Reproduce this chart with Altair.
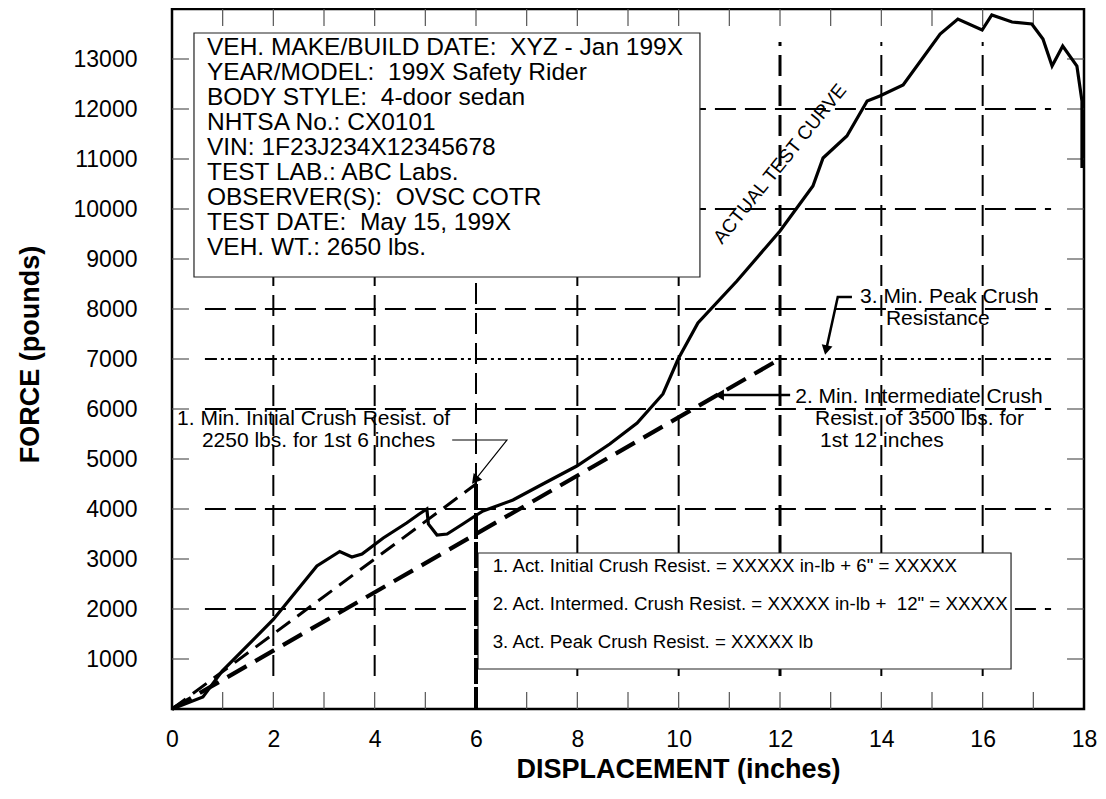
import altair as alt
import pandas as pd

FONT = "Liberation Sans"
NB = "\u00a0"

# ---- actual test curve (displacement in inches, force in pounds) ----
disp = [0, 0.61, 0.99, 2.0, 2.86, 3.31, 3.55, 3.75, 4.17, 4.63, 4.88, 5.03, 5.06, 5.23, 5.43,
        5.74, 5.98, 6.14, 6.73, 7.32, 7.99, 8.64, 9.18, 9.69, 9.99, 10.38, 11.15, 12.0, 12.65,
        12.85, 13.32, 13.72, 13.97, 14.43, 15.16, 15.51, 15.99, 16.18, 16.58, 16.97, 17.19,
        17.37, 17.58, 17.86, 17.96, 17.96]
force = [0, 240, 760, 1790, 2860, 3150, 3040, 3100, 3420, 3720, 3900, 4000, 3700, 3480, 3500,
         3700, 3860, 3960, 4180, 4500, 4860, 5300, 5720, 6300, 7000, 7720, 8560, 9560, 10460,
         11020, 11460, 12160, 12260, 12480, 13500, 13800, 13580, 13880, 13740, 13700, 13400,
         12860, 13260, 12860, 12160, 10820]

# ---- minimum requirement lines ----
init_x = [0, 6]
init_y = [0, 4500]
inter_x = [0, 12]
inter_y = [0, 7000]
peak_force = 7000

# ---- axes / grid ----
x_tick_labels = list(range(0, 19, 2))
y_tick_labels = list(range(1000, 14000, 1000))
x_minor = list(range(1, 18))
y_minor = list(range(1000, 14000, 1000))
vgrid_x = [2, 4, 8, 10, 14, 16]
hgrid_y = [2000, 4000, 6000, 8000, 10000, 12000]

# ---- texts ----
info_lines = [
    "VEH. MAKE/BUILD DATE: " + NB + "XYZ - Jan 199X",
    "YEAR/MODEL: " + NB + "199X Safety Rider",
    "BODY STYLE: " + NB + "4-door sedan",
    "NHTSA No.: CX0101",
    "VIN: 1F23J234X12345678",
    "TEST LAB.: ABC Labs.",
    "OBSERVER(S): " + NB + "OVSC COTR",
    "TEST DATE: " + NB + "May 15, 199X",
    "VEH. WT.: 2650 lbs.",
]
info_y = [13220, 12720, 12220, 11720, 11220, 10720, 10220, 9720, 9220]

result_lines = [
    '1. Act. Initial Crush Resist. = XXXXX in-lb + 6" = XXXXX',
    '2. Act. Intermed. Crush Resist. = XXXXX in-lb + ' + NB + '12" = XXXXX',
    "3. Act. Peak Crush Resist. = XXXXX lb",
]
result_y = [2860, 2100, 1340]

ann_text = ["1. Min. Initial Crush Resist. of", "2250 lbs. for 1st 6 inches",
            "3. Min. Peak Crush", "Resistance",
            "2. Min. Intermediate Crush", "Resist. of 3500 lbs. for", "1st 12 inches"]
ann_x = [0.10, 0.59, 13.58, 14.09, 12.30, 12.69, 12.79]
ann_y = [5810, 5370, 8240, 7800, 6240, 5800, 5360]

xs = alt.Scale(domain=[0, 18], nice=False, zero=False)
ys = alt.Scale(domain=[0, 14000], nice=False, zero=False)

x_axis = alt.Axis(values=x_tick_labels, title="DISPLACEMENT (inches)", grid=False, ticks=False,
                  domain=False, labelFont=FONT, labelFontSize=23, labelColor="black",
                  labelPadding=19, labelFlush=False, labelOverlap=False, format="d",
                  titleFont=FONT, titleFontSize=27, titleFontWeight="bold", titleColor="black",
                  titleX=506, titleY=60, titleAlign="center", titleBaseline="middle")
y_axis = alt.Axis(values=y_tick_labels, title="FORCE (pounds)", grid=False, ticks=False,
                  domain=False, labelFont=FONT, labelFontSize=23, labelColor="black",
                  labelPadding=35, labelFlush=False, labelOverlap=False, format="d",
                  titleFont=FONT, titleFontSize=27, titleFontWeight="bold", titleColor="black",
                  titleX=-142, titleY=345, titleAngle=270, titleAlign="center",
                  titleBaseline="middle")


def X(f="x"):
    return alt.X(f + ":Q", scale=xs, axis=x_axis)


def Y(f="y"):
    return alt.Y(f + ":Q", scale=ys, axis=y_axis)


# grid lines
vg = pd.DataFrame({"x": vgrid_x, "y": 660, "y2": 13340})
vgrid = alt.Chart(vg).mark_rule(color="black", strokeWidth=2, strokeDash=[21, 9]).encode(
    x=X(), y=Y(), y2="y2:Q")
vg6 = pd.DataFrame({"x": [6], "y": [init_y[1]], "y2": [13340]})
vgrid6 = alt.Chart(vg6).mark_rule(color="black", strokeWidth=2, strokeDash=[21, 9]).encode(
    x=X(), y=Y(), y2="y2:Q")
vg12 = pd.DataFrame({"x": [12], "y": [660], "y2": [13340]})
vgrid12 = alt.Chart(vg12).mark_rule(color="black", strokeWidth=3, strokeDash=[21, 9]).encode(
    x=X(), y=Y(), y2="y2:Q")
v6 = pd.DataFrame({"x": [init_x[1]], "y": [init_y[1]], "y2": [0]})
vthick6 = alt.Chart(v6).mark_rule(color="black", strokeWidth=4, strokeDash=[26, 3]).encode(
    x=X(), y=Y(), y2="y2:Q")
hg = pd.DataFrame({"y": hgrid_y, "x": 0.65, "x2": 17.35})
hgrid = alt.Chart(hg).mark_rule(color="black", strokeWidth=2, strokeDash=[21, 9]).encode(
    y=Y(), x=X(), x2="x2:Q")
pk = pd.DataFrame({"y": [peak_force], "x": [0.65], "x2": [17.35]})
peak = alt.Chart(pk).mark_rule(color="black", strokeWidth=2.2,
                               strokeDash=[12, 4, 3, 4, 3, 4]).encode(y=Y(), x=X(), x2="x2:Q")

# inward ticks
tk = pd.concat([
    pd.DataFrame({"x": x_minor, "x2": x_minor, "y": 0, "y2": 340}),
    pd.DataFrame({"x": x_minor, "x2": x_minor, "y": 13660, "y2": 14000}),
    pd.DataFrame({"x": 0, "x2": 0.335, "y": y_minor, "y2": y_minor}),
    pd.DataFrame({"x": 17.665, "x2": 18, "y": y_minor, "y2": y_minor}),
])
ticks = alt.Chart(tk).mark_rule(color="#555555", strokeWidth=1.2).encode(
    x=X(), x2="x2:Q", y=Y(), y2="y2:Q")

# boxes
bx = pd.DataFrame({"x": [0.434, 6.04], "x2": [10.42, 16.56], "y": [13520, 3120], "y2": [8640, 800]})
boxes = alt.Chart(bx).mark_rect(fill="white", stroke="#222222", strokeWidth=1.2).encode(
    x=X(), x2="x2:Q", y=Y(), y2="y2:Q")

# minimum lines
ini = pd.DataFrame({"x": init_x, "y": init_y})
init_line = alt.Chart(ini).mark_line(color="black", strokeWidth=3, strokeDash=[17, 9]).encode(
    x=X(), y=Y())
itm = pd.DataFrame({"x": inter_x, "y": inter_y})
inter_line = alt.Chart(itm).mark_line(color="black", strokeWidth=4.2, strokeDash=[22, 10]).encode(
    x=X(), y=Y())

# actual curve
cv = pd.DataFrame({"x": disp, "y": force, "i": list(range(len(disp)))})
curve = alt.Chart(cv).mark_line(color="black", strokeWidth=3.2, strokeJoin="miter").encode(
    x=X(), y=Y(), order="i:Q")

# leaders
ld1 = pd.DataFrame({"x": [5.53, 6.61, 5.98], "y": [5380, 5380, 4578], "i": [0, 1, 2]})
lead1 = alt.Chart(ld1).mark_line(color="black", strokeWidth=1.2).encode(x=X(), y=Y(), order="i:Q")
ld23 = pd.DataFrame({"x": [12.20, 10.80, 13.42, 13.14, 12.91],
                     "y": [6280, 6280, 8240, 8240, 7180],
                     "g": ["a", "a", "b", "b", "b"], "i": [0, 1, 0, 1, 2]})
lead23 = alt.Chart(ld23).mark_line(color="black", strokeWidth=2.5).encode(
    x=X(), y=Y(), detail="g:N", order="i:Q")
ah = pd.DataFrame({"x": [5.98, 10.80, 12.91], "y": [4578, 6280, 7180], "a": [218.5, 270, 192.4]})
heads = alt.Chart(ah).mark_point(shape="triangle-up", filled=True, size=120, color="black",
                                 opacity=1).encode(x=X(), y=Y(), angle=alt.Angle("a:Q", scale=None))

# texts
inf = pd.DataFrame({"t": info_lines, "x": 0.69, "y": info_y})
info = alt.Chart(inf).mark_text(align="left", baseline="middle", font=FONT, fontSize=24.5,
                                color="black").encode(x=X(), y=Y(), text="t:N")
res = pd.DataFrame({"t": result_lines, "x": 6.33, "y": result_y})
results = alt.Chart(res).mark_text(align="left", baseline="middle", font=FONT, fontSize=18.7,
                                   color="black").encode(x=X(), y=Y(), text="t:N")
an = pd.DataFrame({"t": ann_text, "x": ann_x, "y": ann_y})
anns = alt.Chart(an).mark_text(align="left", baseline="middle", font=FONT, fontSize=21,
                               color="black").encode(x=X(), y=Y(), text="t:N")
cl = pd.DataFrame({"t": ["ACTUAL TEST CURVE"], "x": [12.0], "y": [10900]})
clabel = alt.Chart(cl).mark_text(align="center", baseline="middle", font=FONT, fontSize=19,
                                 angle=309, color="black").encode(x=X(), y=Y(), text="t:N")

chart = alt.layer(
    vgrid, vgrid6, vgrid12, hgrid, peak, ticks, boxes, vthick6,
    init_line, inter_line, curve, lead1, lead23, heads, info, results, anns, clabel
).properties(
    width=912, height=700,
    padding={"left": 164, "top": 1, "right": 14, "bottom": 76},
    autosize=alt.AutoSizeParams(type="none"),
    background="white",
).configure_view(stroke="black", strokeWidth=2.5)

chart.save("out.html", embed_options={"renderer": "svg", "actions": False})
